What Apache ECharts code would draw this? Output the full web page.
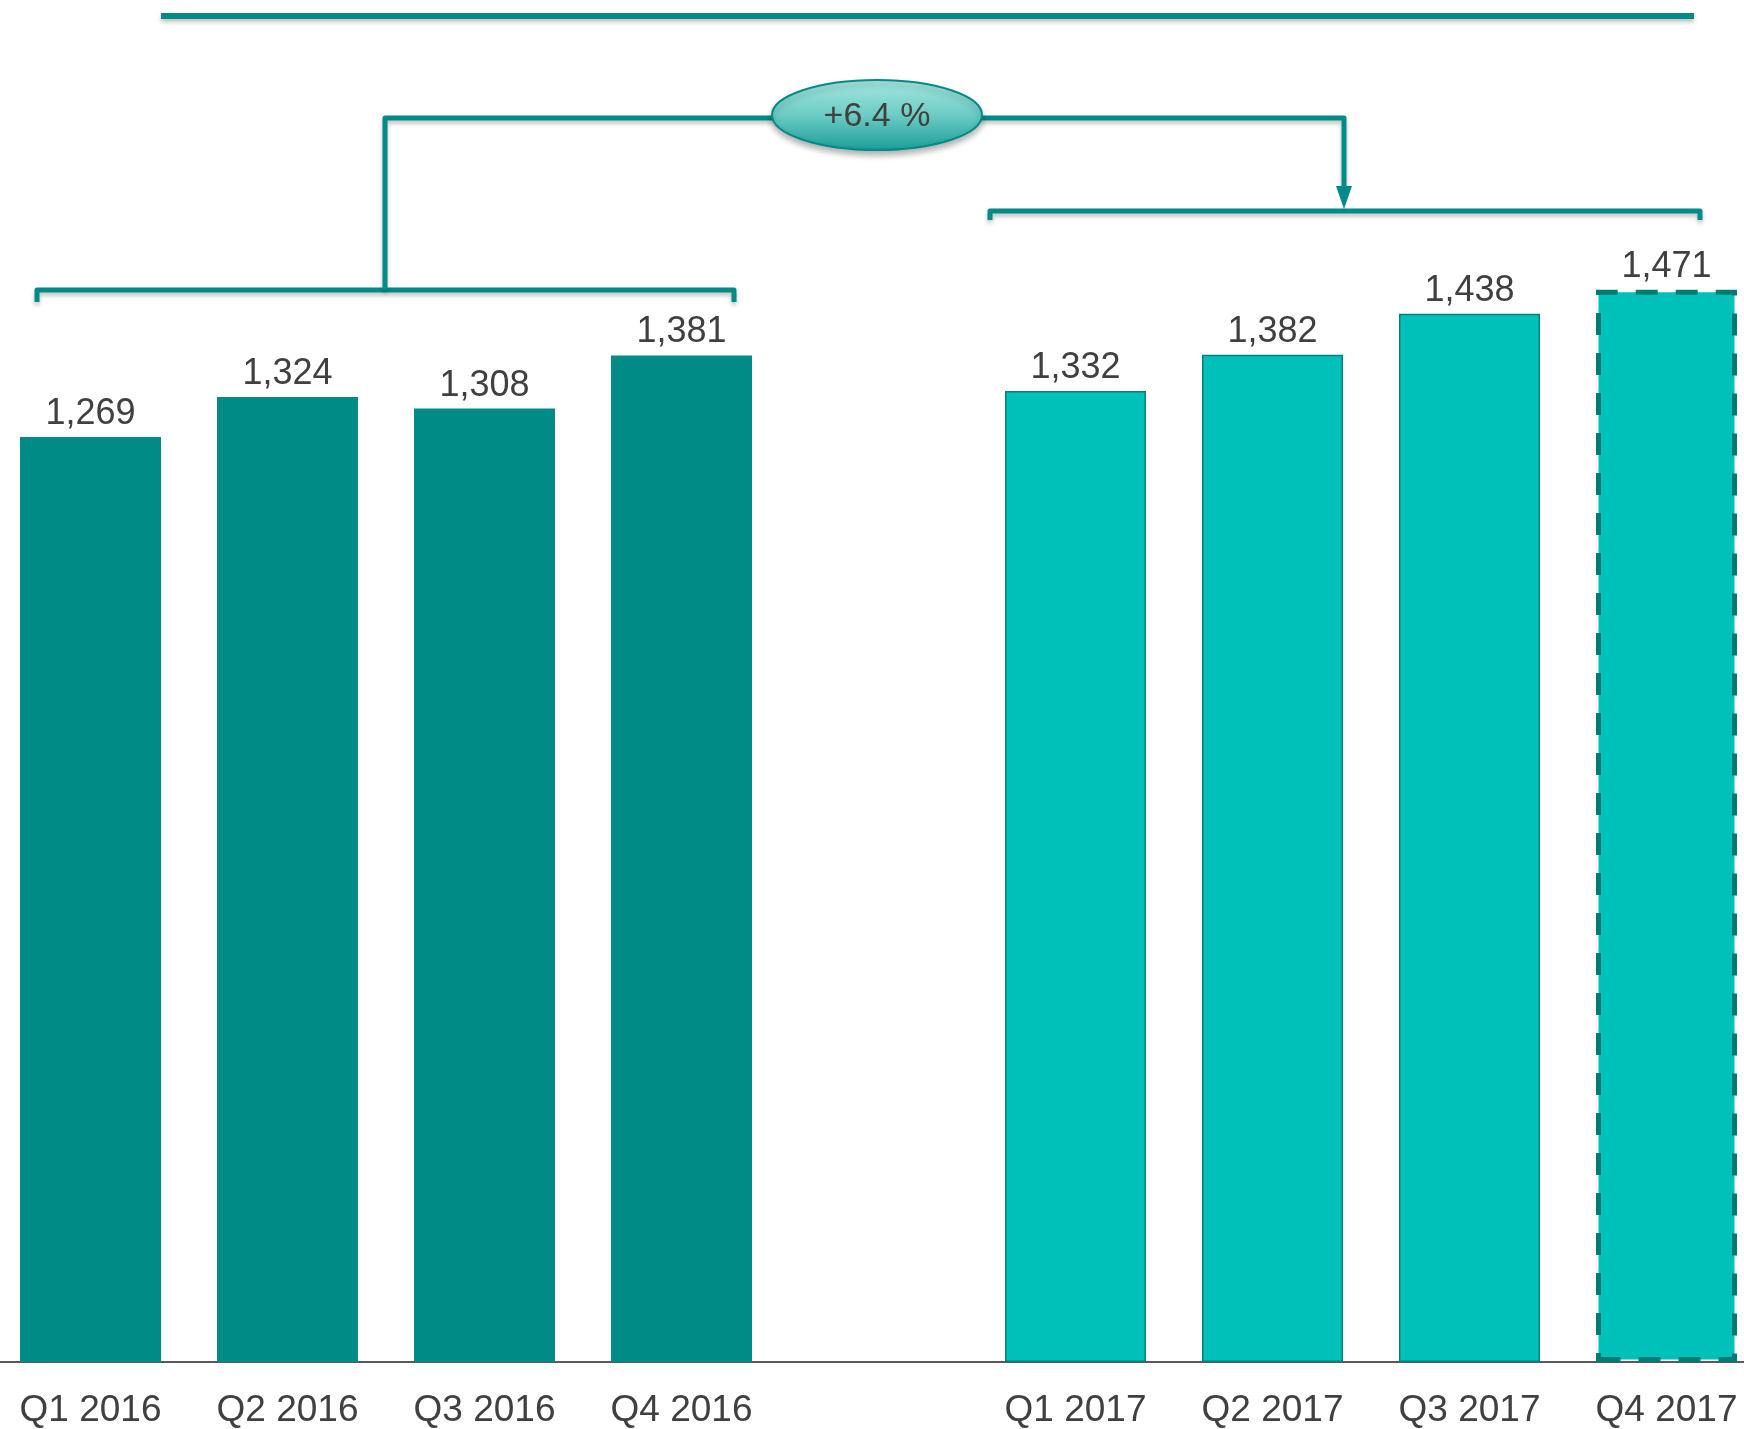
<!DOCTYPE html>
<html>
<head>
<meta charset="utf-8">
<title>Quarterly values 2016 vs 2017</title>
<script src="https://cdn.jsdelivr.net/npm/echarts@6/dist/echarts.min.js"></script>
<style>
  html, body { margin: 0; padding: 0; background: #fff; overflow: hidden; }
  /* the plot runs a little past both page edges, as in the original slide */
  #chart { position: absolute; left: -8px; top: 0; width: 1773px; height: 1429px; }
</style>
</head>
<body>
<div id="chart"></div>
<script>
// data
var quarters2016 = ['Q1 2016', 'Q2 2016', 'Q3 2016', 'Q4 2016'];
var quarters2017 = ['Q1 2017', 'Q2 2017', 'Q3 2017', 'Q4 2017'];
var values2016 = [1269, 1324, 1308, 1381];
var values2017 = [1332, 1382, 1438, 1471];
var growthText = '+6.4 %';

var dark = '#008B87';
var light = '#00C0BA';
var textColor = '#404040';
var font = '"Liberation Sans", Arial, sans-serif';
var dx = 8; // canvas is shifted left by this much

// one empty slot between the two years
var categories = quarters2016.concat(['']).concat(quarters2017);
var barData = [];
values2016.forEach(function (v) {
  barData.push({ value: v, itemStyle: { color: dark } });
});
barData.push('-');
values2017.forEach(function (v, i) {
  var last = i === values2017.length - 1;
  barData.push({
    value: v,
    itemStyle: last
      ? { color: light, borderColor: '#007A73', borderWidth: 5, borderType: [22, 18] }
      : { color: light, borderColor: '#008080', borderWidth: 1.5 }
  });
});

function pts(list) {
  return list.map(function (p) { return [p[0] + dx, p[1]]; });
}

function stroke(w) {
  return {
    stroke: dark, lineWidth: w, fill: null, lineJoin: 'round',
    shadowBlur: 4, shadowOffsetY: 3, shadowColor: 'rgba(0,0,0,0.25)'
  };
}

var option = {
  animation: false,
  grid: { left: 0, right: 0, top: 50, bottom: 66 },
  xAxis: {
    type: 'category',
    data: categories,
    axisTick: { show: false },
    axisLine: { lineStyle: { color: '#595959', width: 2 } },
    axisLabel: {
      interval: 0,
      margin: 30,
      color: textColor,
      fontSize: 37,
      fontFamily: font
    }
  },
  yAxis: {
    type: 'value',
    min: 0,
    max: 1800,
    show: false,
    splitLine: { show: false }
  },
  series: [{
    type: 'bar',
    data: barData,
    barWidth: 141,
    label: {
      show: true,
      position: 'top',
      distance: 5,
      color: textColor,
      fontSize: 36,
      fontFamily: font,
      formatter: function (p) { return p.value.toLocaleString('en-US'); }
    }
  }],
  graphic: [
    // top rule
    { type: 'polyline', shape: { points: pts([[161, 16], [1694, 16]]) }, style: stroke(6) },
    // 2016 bracket and its connector
    { type: 'polyline', shape: { points: pts([[37, 302], [37, 290], [734, 290], [734, 302]]) }, style: stroke(5) },
    { type: 'polyline', shape: { points: pts([[385, 290], [385, 118], [775, 118]]) }, style: stroke(5) },
    // connector to 2017 bracket with arrow
    { type: 'polyline', shape: { points: pts([[980, 118], [1344, 118], [1344, 192]]) }, style: stroke(5) },
    { type: 'polygon', shape: { points: pts([[1336, 186], [1352, 186], [1344, 209]]) }, style: { fill: dark } },
    // 2017 bracket
    { type: 'polyline', shape: { points: pts([[990, 220], [990, 211], [1700, 211], [1700, 220]]) }, style: stroke(5) },
    // growth bubble
    {
      type: 'ellipse',
      shape: { cx: 877 + dx, cy: 115, rx: 105, ry: 35 },
      style: {
        fill: new echarts.graphic.LinearGradient(0, 0, 0, 1, [
          { offset: 0, color: '#A8E9E3' },
          { offset: 0.5, color: '#6CCBC5' },
          { offset: 1, color: '#1C9D97' }
        ]),
        stroke: dark,
        lineWidth: 2,
        shadowBlur: 6,
        shadowOffsetY: 4,
        shadowColor: 'rgba(0,0,0,0.3)'
      }
    },
    {
      type: 'text',
      x: 877 + dx,
      y: 117,
      style: {
        text: growthText,
        align: 'center',
        verticalAlign: 'middle',
        fill: textColor,
        font: '34px ' + font
      }
    }
  ]
};

var chart = echarts.init(document.getElementById('chart'));
chart.setOption(option);
</script>
</body>
</html>
